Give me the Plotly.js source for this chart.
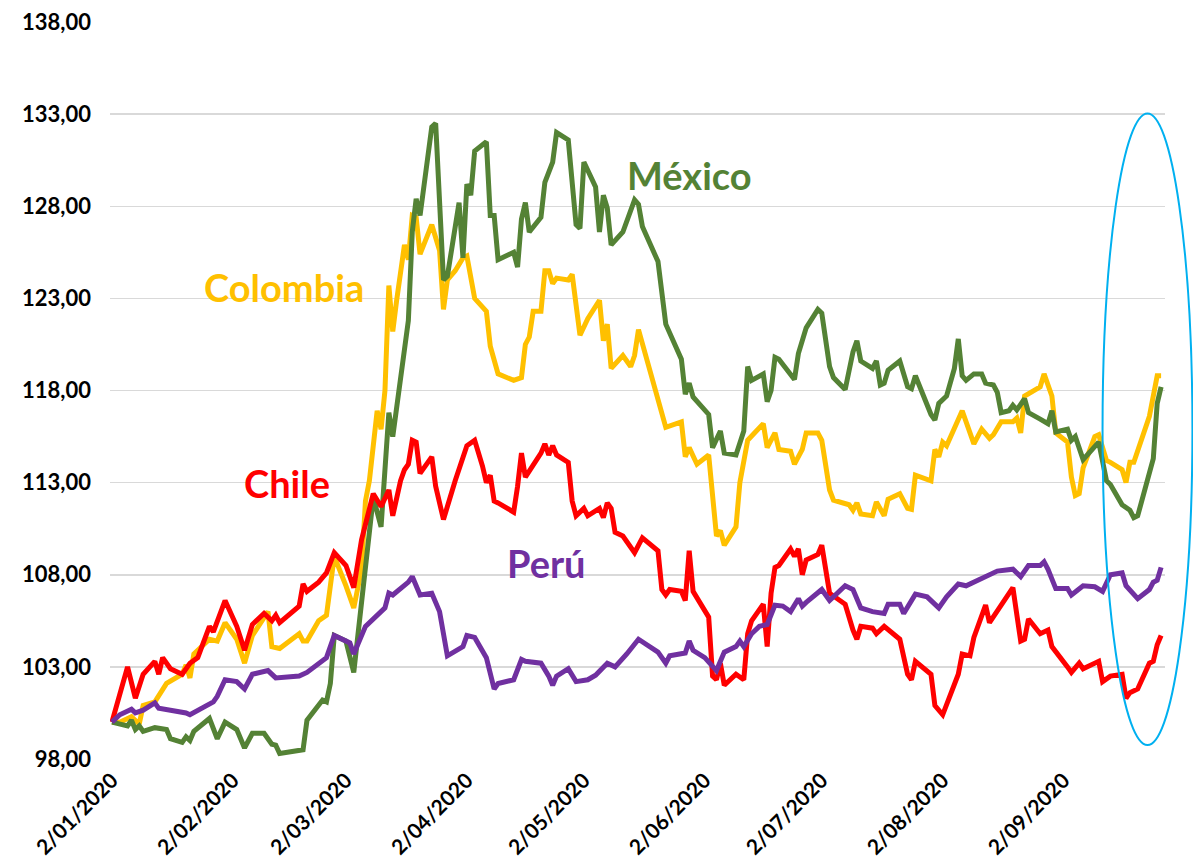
<!DOCTYPE html>
<html>
<head>
<meta charset="utf-8">
<script src="https://cdn.plot.ly/plotly-3.0.1.min.js"></script>
<style>html,body{margin:0;padding:0;background:#fff;}#chart{width:1193px;height:865px;}</style>
</head>
<body>
<div id="chart"></div>
<script>
const chileDates = ['2020-01-02','2020-01-06','2020-01-08','2020-01-10','2020-01-13','2020-01-14','2020-01-15','2020-01-17','2020-01-20','2020-01-22','2020-01-24','2020-01-27','2020-01-28','2020-01-31','2020-02-03','2020-02-05','2020-02-07','2020-02-10','2020-02-12','2020-02-13','2020-02-14','2020-02-19','2020-02-20','2020-02-21','2020-02-24','2020-02-26','2020-02-28','2020-03-02','2020-03-04','2020-03-06','2020-03-09','2020-03-11','2020-03-13','2020-03-14','2020-03-16','2020-03-17','2020-03-18','2020-03-19','2020-03-20','2020-03-21','2020-03-24','2020-03-25','2020-03-27','2020-03-29','2020-03-30','2020-04-02','2020-04-04','2020-04-06','2020-04-07','2020-04-08','2020-04-09','2020-04-10','2020-04-14','2020-04-15','2020-04-16','2020-04-17','2020-04-21','2020-04-22','2020-04-23','2020-04-24','2020-04-25','2020-04-28','2020-04-29','2020-04-30','2020-05-02','2020-05-03','2020-05-06','2020-05-07','2020-05-08','2020-05-09','2020-05-10','2020-05-12','2020-05-15','2020-05-17','2020-05-21','2020-05-22','2020-05-23','2020-05-24','2020-05-27','2020-05-28','2020-05-29','2020-05-30','2020-06-03','2020-06-04','2020-06-05','2020-06-06','2020-06-07','2020-06-10','2020-06-12','2020-06-13','2020-06-14','2020-06-17','2020-06-18','2020-06-19','2020-06-20','2020-06-21','2020-06-24','2020-06-25','2020-06-26','2020-06-27','2020-06-28','2020-07-01','2020-07-02','2020-07-04','2020-07-07','2020-07-08','2020-07-10','2020-07-11','2020-07-12','2020-07-15','2020-07-16','2020-07-18','2020-07-22','2020-07-24','2020-07-25','2020-07-26','2020-07-30','2020-07-31','2020-08-02','2020-08-03','2020-08-06','2020-08-07','2020-08-09','2020-08-10','2020-08-13','2020-08-14','2020-08-16','2020-08-20','2020-08-22','2020-08-23','2020-08-24','2020-08-27','2020-08-29','2020-08-30','2020-09-03','2020-09-04','2020-09-06','2020-09-07','2020-09-11','2020-09-12','2020-09-14','2020-09-17','2020-09-18','2020-09-19','2020-09-21','2020-09-24','2020-09-25','2020-09-26','2020-09-27'];
const chileValues = [100.0,103.0,101.3,102.6,103.3,102.6,103.5,102.9,102.6,103.2,103.5,105.2,104.9,106.6,105.2,103.9,105.3,105.9,105.5,105.8,105.4,106.3,107.5,107.1,107.6,108.1,109.2,108.5,107.3,109.9,112.4,111.7,112.6,111.2,113.1,113.7,114.0,115.3,115.2,113.5,114.4,112.8,111.0,112.5,113.1,115.0,115.3,113.9,113.0,113.4,112.0,111.9,111.4,112.8,114.6,113.3,114.6,115.1,114.5,115.0,114.5,114.1,112.0,111.2,111.6,111.2,111.6,111.1,111.9,111.6,110.3,110.1,109.2,110.0,109.3,107.2,106.9,107.2,107.1,106.6,109.3,107.1,105.7,102.5,102.3,103.2,102.0,102.6,102.3,104.8,105.5,106.4,104.1,107.0,108.4,108.5,109.4,109.0,109.4,108.0,108.8,109.1,109.6,107.0,106.6,106.4,105.0,104.5,105.2,105.1,104.8,105.2,104.5,102.6,102.3,103.3,102.6,100.9,100.4,101.0,102.6,103.7,103.6,104.6,106.35,105.4,106.0,107.3,104.4,104.5,105.6,104.8,105.0,104.1,103.0,102.7,103.2,102.9,103.3,102.2,102.5,102.6,101.3,101.6,101.8,103.2,103.3,104.2,104.7];

const colombiaDates = ['2020-01-02','2020-01-04','2020-01-07','2020-01-09','2020-01-10','2020-01-13','2020-01-16','2020-01-20','2020-01-21','2020-01-22','2020-01-23','2020-01-27','2020-01-29','2020-01-31','2020-02-03','2020-02-05','2020-02-07','2020-02-11','2020-02-12','2020-02-14','2020-02-19','2020-02-20','2020-02-21','2020-02-24','2020-02-26','2020-02-28','2020-03-02','2020-03-04','2020-03-06','2020-03-07','2020-03-08','2020-03-10','2020-03-11','2020-03-12','2020-03-13','2020-03-14','2020-03-15','2020-03-17','2020-03-18','2020-03-19','2020-03-20','2020-03-21','2020-03-24','2020-03-26','2020-03-27','2020-03-28','2020-03-30','2020-04-01','2020-04-02','2020-04-04','2020-04-07','2020-04-08','2020-04-10','2020-04-14','2020-04-16','2020-04-17','2020-04-18','2020-04-19','2020-04-21','2020-04-22','2020-04-23','2020-04-24','2020-04-25','2020-04-28','2020-04-29','2020-04-30','2020-05-01','2020-05-03','2020-05-06','2020-05-07','2020-05-08','2020-05-09','2020-05-12','2020-05-14','2020-05-15','2020-05-16','2020-05-23','2020-05-27','2020-05-28','2020-05-29','2020-05-31','2020-06-03','2020-06-05','2020-06-06','2020-06-07','2020-06-10','2020-06-11','2020-06-13','2020-06-17','2020-06-18','2020-06-20','2020-06-21','2020-06-24','2020-06-25','2020-06-27','2020-06-28','2020-07-01','2020-07-02','2020-07-04','2020-07-05','2020-07-09','2020-07-10','2020-07-11','2020-07-12','2020-07-15','2020-07-16','2020-07-18','2020-07-19','2020-07-22','2020-07-24','2020-07-25','2020-07-26','2020-07-30','2020-07-31','2020-08-01','2020-08-02','2020-08-03','2020-08-07','2020-08-10','2020-08-12','2020-08-14','2020-08-15','2020-08-17','2020-08-20','2020-08-21','2020-08-22','2020-08-23','2020-08-27','2020-08-28','2020-08-30','2020-08-31','2020-09-03','2020-09-04','2020-09-05','2020-09-06','2020-09-07','2020-09-10','2020-09-11','2020-09-13','2020-09-14','2020-09-17','2020-09-18','2020-09-19','2020-09-20','2020-09-24','2020-09-26','2020-09-27'];
const colombiaValues = [100.0,100.0,100.3,99.9,100.9,101.1,102.1,102.6,103.1,102.4,103.7,104.5,104.4,105.4,104.5,103.2,104.7,106.0,104.1,104.0,104.8,104.4,104.4,105.5,105.8,109.0,107.4,106.2,108.3,112.0,113.1,116.9,115.9,118.0,123.7,121.2,122.9,125.9,125.1,127.5,127.4,125.4,127.0,125.6,122.4,124.0,124.5,125.2,125.3,123.0,122.3,120.4,118.9,118.55,118.7,120.5,120.9,122.3,122.3,124.5,124.5,123.8,124.1,124.0,124.3,122.5,121.0,121.9,122.9,120.7,121.6,119.2,119.9,119.3,119.9,121.3,116.0,116.3,114.4,114.9,114.0,114.5,110.1,110.4,109.6,110.6,113.0,115.3,116.2,114.9,115.7,114.8,114.7,114.0,114.8,115.7,115.7,115.3,112.6,112.05,111.8,111.5,111.9,111.3,111.2,111.95,111.2,112.1,112.4,111.6,111.55,113.4,113.1,114.8,114.4,115.2,115.0,116.9,115.1,115.9,115.4,115.6,116.3,116.3,116.5,115.7,117.7,118.2,118.9,117.7,115.7,115.2,113.3,112.3,112.4,113.8,115.5,115.6,114.2,114.1,113.7,113.0,114.1,114.1,116.6,118.8,118.8];

const mexicoDates = ['2020-01-02','2020-01-04','2020-01-06','2020-01-07','2020-01-08','2020-01-09','2020-01-10','2020-01-13','2020-01-16','2020-01-17','2020-01-20','2020-01-21','2020-01-22','2020-01-23','2020-01-27','2020-01-29','2020-01-31','2020-02-03','2020-02-05','2020-02-07','2020-02-10','2020-02-12','2020-02-13','2020-02-14','2020-02-19','2020-02-20','2020-02-21','2020-02-25','2020-02-26','2020-02-27','2020-02-28','2020-03-02','2020-03-04','2020-03-09','2020-03-11','2020-03-13','2020-03-14','2020-03-18','2020-03-19','2020-03-20','2020-03-21','2020-03-24','2020-03-25','2020-03-27','2020-03-28','2020-03-31','2020-04-01','2020-04-02','2020-04-03','2020-04-04','2020-04-07','2020-04-08','2020-04-09','2020-04-10','2020-04-14','2020-04-15','2020-04-16','2020-04-17','2020-04-18','2020-04-21','2020-04-22','2020-04-24','2020-04-25','2020-04-28','2020-04-30','2020-05-01','2020-05-02','2020-05-05','2020-05-06','2020-05-07','2020-05-08','2020-05-09','2020-05-12','2020-05-15','2020-05-16','2020-05-17','2020-05-21','2020-05-23','2020-05-27','2020-05-28','2020-05-29','2020-05-30','2020-06-03','2020-06-04','2020-06-06','2020-06-07','2020-06-10','2020-06-12','2020-06-13','2020-06-14','2020-06-17','2020-06-18','2020-06-19','2020-06-20','2020-06-21','2020-06-25','2020-06-26','2020-06-28','2020-07-01','2020-07-02','2020-07-04','2020-07-05','2020-07-08','2020-07-10','2020-07-11','2020-07-12','2020-07-15','2020-07-16','2020-07-17','2020-07-18','2020-07-19','2020-07-22','2020-07-24','2020-07-25','2020-07-26','2020-07-27','2020-07-30','2020-07-31','2020-08-01','2020-08-03','2020-08-05','2020-08-06','2020-08-07','2020-08-08','2020-08-10','2020-08-12','2020-08-13','2020-08-15','2020-08-16','2020-08-17','2020-08-19','2020-08-20','2020-08-21','2020-08-23','2020-08-24','2020-08-27','2020-08-29','2020-08-30','2020-08-31','2020-09-03','2020-09-04','2020-09-05','2020-09-07','2020-09-11','2020-09-13','2020-09-14','2020-09-17','2020-09-19','2020-09-20','2020-09-21','2020-09-24','2020-09-25','2020-09-26','2020-09-27'];
const mexicoValues = [100.0,99.9,99.8,100.1,99.6,99.8,99.5,99.7,99.6,99.1,98.9,99.2,99.0,99.5,100.2,99.1,100.0,99.6,98.6,99.4,99.4,98.8,98.75,98.3,98.5,98.5,100.1,101.2,101.1,102.1,104.7,104.4,102.7,112.2,110.6,116.8,115.5,121.8,126.6,128.4,127.5,132.3,132.5,124.0,124.2,128.2,125.2,129.2,128.6,131.0,131.5,127.5,127.5,125.1,125.5,124.7,127.3,128.2,126.6,127.4,129.3,130.4,132.0,131.6,127.0,126.8,130.4,129.05,126.6,128.6,127.9,125.9,126.6,128.35,128.1,126.9,125.0,121.6,119.7,117.8,118.4,117.65,116.7,114.9,115.8,114.6,114.5,115.8,119.3,118.55,118.9,117.4,118.0,119.8,119.7,118.6,120.0,121.4,122.4,122.2,119.3,118.7,118.05,120.1,120.7,119.6,119.2,119.6,118.3,118.4,119.1,119.6,118.2,118.1,118.8,118.3,116.7,116.4,117.3,117.7,119.2,120.8,118.8,118.55,118.9,118.9,118.4,118.3,117.9,116.8,116.9,117.2,116.95,117.55,116.8,116.45,116.2,116.9,115.75,115.9,115.3,115.5,114.25,115.2,113.1,112.9,111.8,111.5,111.1,111.2,113.7,114.3,117.3,118.2];

const peruDates = ['2020-01-02','2020-01-04','2020-01-07','2020-01-08','2020-01-10','2020-01-13','2020-01-14','2020-01-17','2020-01-21','2020-01-22','2020-01-28','2020-01-29','2020-01-31','2020-02-03','2020-02-05','2020-02-07','2020-02-11','2020-02-13','2020-02-19','2020-02-21','2020-02-24','2020-02-26','2020-02-28','2020-03-03','2020-03-04','2020-03-07','2020-03-12','2020-03-13','2020-03-14','2020-03-18','2020-03-19','2020-03-21','2020-03-24','2020-03-26','2020-03-28','2020-03-31','2020-04-01','2020-04-02','2020-04-04','2020-04-07','2020-04-09','2020-04-10','2020-04-14','2020-04-16','2020-04-17','2020-04-21','2020-04-23','2020-04-24','2020-04-25','2020-04-28','2020-04-30','2020-05-03','2020-05-05','2020-05-08','2020-05-10','2020-05-13','2020-05-16','2020-05-21','2020-05-23','2020-05-24','2020-05-28','2020-05-29','2020-05-30','2020-06-02','2020-06-05','2020-06-07','2020-06-10','2020-06-11','2020-06-12','2020-06-14','2020-06-16','2020-06-18','2020-06-20','2020-06-22','2020-06-24','2020-06-26','2020-06-27','2020-06-28','2020-07-02','2020-07-04','2020-07-08','2020-07-10','2020-07-12','2020-07-15','2020-07-18','2020-07-19','2020-07-22','2020-07-23','2020-07-26','2020-07-29','2020-08-01','2020-08-03','2020-08-06','2020-08-08','2020-08-13','2020-08-16','2020-08-20','2020-08-22','2020-08-24','2020-08-27','2020-08-28','2020-08-29','2020-08-31','2020-09-03','2020-09-04','2020-09-07','2020-09-10','2020-09-12','2020-09-14','2020-09-17','2020-09-18','2020-09-21','2020-09-24','2020-09-25','2020-09-26','2020-09-27'];
const peruValues = [100.0,100.4,100.7,100.5,100.65,101.05,100.75,100.65,100.5,100.4,101.1,101.4,102.3,102.2,101.8,102.6,102.8,102.4,102.5,102.7,103.2,103.5,104.7,104.3,103.7,105.2,106.2,107.0,106.9,107.6,107.9,106.9,107.0,106.0,103.6,104.0,104.1,104.7,104.6,103.5,101.8,102.1,102.3,103.4,103.3,103.2,102.5,102.0,102.5,102.9,102.2,102.3,102.55,103.2,103.0,103.7,104.5,103.8,103.2,103.6,103.75,104.4,103.9,103.5,102.8,103.8,104.1,104.4,104.1,104.8,105.2,105.3,106.35,106.3,106.0,106.7,106.3,106.5,107.2,106.6,107.4,107.2,106.2,106.0,105.9,106.4,106.4,105.9,106.95,106.8,106.2,106.8,107.5,107.4,107.9,108.2,108.3,107.9,108.5,108.5,108.7,108.3,107.25,107.25,106.9,107.4,107.35,107.1,108.0,108.1,107.4,106.7,107.2,107.6,107.7,108.4];

const tickDates = ['2020-01-02','2020-02-02','2020-03-02','2020-04-02','2020-05-02','2020-06-02','2020-07-02','2020-08-02','2020-09-02'];

const FONT = 'Lato, "Open Sans", "DejaVu Sans", sans-serif';
const colors = {chile:'#FF0000', colombia:'#FFC000', mexico:'#548235', peru:'#7030A0'};

function line(x, y, name, color) {
  return {x: x, y: y, name: name, type: 'scatter', mode: 'lines',
          line: {color: color, width: 5}, hoverinfo: 'skip'};
}

const traces = [
  line(colombiaDates, colombiaValues, 'Colombia', colors.colombia),
  line(mexicoDates, mexicoValues, 'México', colors.mexico),
  line(chileDates, chileValues, 'Chile', colors.chile),
  line(peruDates, peruValues, 'Perú', colors.peru)
];

const labelFont = (c) => ({family: FONT, size: 38, color: c, weight: 'bold'});

const layout = {
  width: 1193, height: 865,
  margin: {l: 110, r: 27.5, t: 22, b: 106},
  paper_bgcolor: '#ffffff', plot_bgcolor: '#ffffff',
  showlegend: false,
  separators: ',.',
  font: {family: FONT, color: '#000'},
  xaxis: {
    type: 'date',
    range: ['2020-01-01 12:00', '2020-09-28'],
    tickvals: tickDates,
    tickformat: '%-d/%m/%Y',
    tickangle: -45,
    tickfont: {family: FONT, size: 21, color: '#000', weight: 'bold'},
    ticklabelstandoff: 4,
    showgrid: false, zeroline: false, showline: false, ticks: ''
  },
  yaxis: {
    range: [98, 138],
    tick0: 98, dtick: 5,
    tickformat: '.2f',
    tickfont: {family: FONT, size: 22, color: '#000', weight: 'bold'},
    ticklabelstandoff: 18,
    showgrid: true, gridcolor: '#D9D9D9', gridwidth: 1.5,
    zeroline: false, showline: false, ticks: ''
  },
  annotations: [
    {x: '2020-05-29', y: 129.7, xref: 'x', yref: 'y', text: 'México', showarrow: false, font: labelFont(colors.mexico)},
    {x: '2020-02-15', y: 123.6, xref: 'x', yref: 'y', text: 'Colombia', showarrow: false, font: labelFont(colors.colombia)},
    {x: '2020-02-16', y: 113.0, xref: 'x', yref: 'y', text: 'Chile', showarrow: false, font: labelFont(colors.chile)},
    {x: '2020-04-22 12:00', y: 108.65, xref: 'x', yref: 'y', text: 'Perú', showarrow: false, font: labelFont(colors.peru)}
  ],
  shapes: [
    {type: 'circle', xref: 'paper', yref: 'paper', x0: 0.9408, x1: 1.026, y0: 0.019, y1: 0.876,
     line: {color: '#00B0F0', width: 2}, fillcolor: 'rgba(0,0,0,0)'}
  ]
};

Plotly.newPlot('chart', traces, layout, {displayModeBar: false, staticPlot: true});
</script>
</body>
</html>
